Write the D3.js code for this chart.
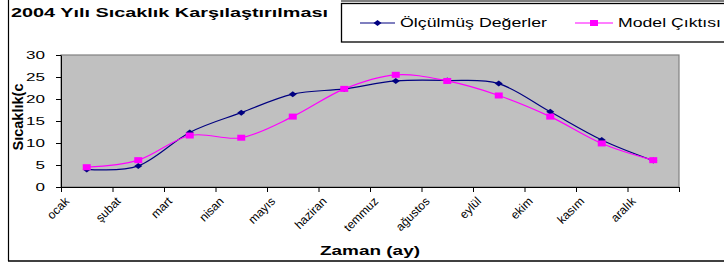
<!DOCTYPE html>
<html><head><meta charset="utf-8">
<script src="https://cdn.jsdelivr.net/npm/d3@7"></script>
<style>body{margin:0;background:#fff}svg{display:block;font-family:Arial,"Liberation Sans",sans-serif}</style>
</head><body><svg id="c" width="724" height="266"></svg>
<script>
const months = ["ocak","şubat","mart","nisan","mayıs","haziran","temmuz","ağustos","eylül","ekim","kasım","aralık"];
const measured = [4.0,4.8,12.4,16.9,21.1,22.3,24.1,24.2,23.5,17.1,10.7,6.0];
const model = [4.5,6.1,11.7,11.2,16.0,22.3,25.5,24.1,20.8,16.0,9.9,6.1];
const yTicks = [0,5,10,15,20,25,30];
const seriesNames = ["Ölçülmüş Değerler","Model Çıktısı"];
const titleText = "2004 Yılı Sıcaklık Karşılaştırılması";
const xTitle = "Zaman (ay)";
const yTitle = "Sıcaklık(c";

const svg = d3.select("#c");
const L=61,R=679,T=55,B=187;
const x = d3.scaleBand().domain(months).range([L,R]).padding(0);
const y = d3.scaleLinear().domain([0,30]).range([B,T]);

// outer frame
svg.append("line").attr("x1",8.5).attr("x2",8.5).attr("y1",0).attr("y2",261).attr("stroke","#000").attr("stroke-width",1.2);
svg.append("line").attr("x1",8).attr("x2",724).attr("y1",261).attr("y2",261).attr("stroke","#000").attr("stroke-width",1.5);

// title
svg.append("text").attr("x",11).attr("y",17).attr("font-weight","bold").attr("font-size",12)
  .attr("textLength",317).attr("lengthAdjust","spacingAndGlyphs").text(titleText);

// plot area
svg.append("rect").attr("x",L).attr("y",T).attr("width",R-L).attr("height",B-T)
  .attr("fill","#c0c0c0").attr("stroke","#808080").attr("stroke-width",1.2);

// y axis
const ya = svg.append("g").attr("transform",`translate(${L},0)`)
  .call(d3.axisLeft(y).tickValues(yTicks).tickSize(5).tickPadding(11).tickSizeOuter(0));
ya.select(".domain").attr("stroke","#000");
ya.selectAll("text").attr("font-size",11).attr("font-family","Arial,'Liberation Sans',sans-serif")
  .attr("fill","#000")
  .attr("textLength",d=>String(d).length*9.5).attr("lengthAdjust","spacingAndGlyphs");

// x axis
const xa = svg.append("g");
xa.append("line").attr("x1",L).attr("x2",R).attr("y1",B+0.5).attr("y2",B+0.5).attr("stroke","#000");
const tickXs = months.map(m=>x(m)).concat([R]);
xa.selectAll("line.t").data(tickXs).join("line").attr("class","t")
  .attr("x1",d=>d+0.5).attr("x2",d=>d+0.5).attr("y1",B).attr("y2",B+5).attr("stroke","#000");
xa.selectAll("g.lab").data(months).join("g").attr("class","lab")
  .attr("transform",m=>`translate(${x(m)+6},199) rotate(-45)`)
  .append("text").attr("text-anchor","end").attr("dy","0.35em").attr("font-size",12).attr("fill","#000").text(m=>m);

// axis titles
svg.append("text").attr("x",320).attr("y",255).attr("font-weight","bold").attr("font-size",12.5)
  .attr("textLength",100).attr("lengthAdjust","spacingAndGlyphs").text(xTitle);
svg.append("g").attr("transform","translate(23,117) scale(1.4,1) rotate(-90)")
  .append("text").attr("text-anchor","middle").attr("font-weight","bold").attr("font-size",11)
  .attr("textLength",67).attr("lengthAdjust","spacingAndGlyphs").text(yTitle);

// lines
const cx = m=>x(m)+x.bandwidth()/2;
const line = d3.line().x((d,i)=>cx(months[i])).y(d=>y(d)).curve(d3.curveCatmullRom.alpha(0));
const colors = ["#000080","#ff00ff"];
svg.append("path").attr("d",line(measured)).attr("fill","none").attr("stroke",colors[0]).attr("stroke-width",1.2);
svg.append("path").attr("d",line(model)).attr("fill","none").attr("stroke",colors[1]).attr("stroke-width",1.2);
const diamond = "M-4,0L0,-3L4,0L0,3Z";
svg.selectAll("path.dm").data(measured).join("path").attr("class","dm")
  .attr("transform",(d,i)=>`translate(${cx(months[i])},${y(d)})`).attr("d",diamond).attr("fill",colors[0]);
svg.selectAll("rect.sq").data(model).join("rect").attr("class","sq")
  .attr("x",(d,i)=>cx(months[i])-4).attr("y",d=>y(d)-3).attr("width",8).attr("height",6).attr("fill",colors[1]);

// legend
svg.append("line").attr("x1",341).attr("x2",724).attr("y1",1).attr("y2",1).attr("stroke","#000").attr("stroke-width",1);
svg.append("rect").attr("x",341.5).attr("y",3.5).attr("width",400).attr("height",38.5)
  .attr("fill","#fff").attr("stroke","#000").attr("stroke-width",1.3);
const leg = [{x1:360,x2:395,tx:400,tl:147},{x1:575,x2:613,tx:618,tl:103}];
leg.forEach((l,i)=>{
  svg.append("line").attr("x1",l.x1).attr("x2",l.x2).attr("y1",23).attr("y2",23).attr("stroke",colors[i]).attr("stroke-width",1.2);
  const mx=(l.x1+l.x2)/2;
  if(i===0) svg.append("path").attr("transform",`translate(${mx},23)`).attr("d",diamond).attr("fill",colors[0]);
  else svg.append("rect").attr("x",mx-4).attr("y",20).attr("width",8).attr("height",6).attr("fill",colors[1]);
  svg.append("text").attr("x",l.tx).attr("y",27).attr("font-size",13)
    .attr("textLength",l.tl).attr("lengthAdjust","spacingAndGlyphs").text(seriesNames[i]);
});
</script></body></html>
